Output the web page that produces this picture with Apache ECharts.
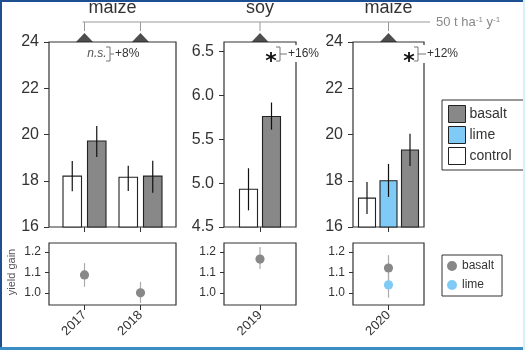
<!DOCTYPE html>
<html>
<head>
<meta charset="utf-8">
<script src="https://cdn.jsdelivr.net/npm/echarts@6/dist/echarts.min.js"></script>
<style>
  html, body { margin: 0; padding: 0; background: #fff; }
  #chart { width: 525px; height: 350px; }
</style>
</head>
<body>
<div id="chart"></div>
<script>
// Data
var years = ['2017', '2018', '2019', '2020'];
var crops = ['maize', 'soy', 'maize'];
var yearPanel = [0, 0, 1, 2];
var yearSlot = [0, 1, 0, 0];

var controlMean = [18.2, 18.15, 4.93, 17.25];
var controlLow = [17.55, 17.56, 4.69, 16.56];
var controlHigh = [18.85, 18.65, 5.17, 17.95];

var basaltMean = [19.72, 18.2, 5.76, 19.33];
var basaltLow = [19.03, 17.48, 5.61, 18.64];
var basaltHigh = [20.37, 18.86, 5.92, 20.03];

var limeYears = ['2020'];
var limeMean = [18.0];
var limeLow = [17.3];
var limeHigh = [18.73];

var gainBasalt = [1.088, 1.0, 1.166, 1.122];
var gainBasaltLow = [1.03, 0.95, 1.117, 1.06];
var gainBasaltHigh = [1.146, 1.054, 1.225, 1.185];
var gainLime = [1.039];
var gainLimeLow = [0.976];
var gainLimeHigh = [1.10];

var sigLabels = ['n.s.', '*', '*'];
var effectLabels = ['+8%', '+16%', '+12%'];
var yieldTicks = [[16, 18, 20, 22, 24], [4.5, 5.0, 5.5, 6.0, 6.5], [16, 18, 20, 22, 24]];
var gainTicks = [1.0, 1.1, 1.2];

// Layout / style
var FONT = 'Liberation Sans, Arial, sans-serif';
var INK = '#333';
var panels = [
    { left: 49, width: 127, xMin: -0.634, xMax: 1.634, yMin: 16, yMax: 24, bw: 18.5, step: 24.5 },
    { left: 224, width: 72, xMin: -0.5, xMax: 0.5, yMin: 4.5, yMax: 6.61, bw: 18, step: 23 },
    { left: 353, width: 71, xMin: -0.5, xMax: 0.5, yMin: 16, yMax: 24, bw: 17, step: 21.5 }
];
var gainMin = 0.94, gainMax = 1.245;
var colors = { basalt: '#888888', lime: '#80cbf6', control: '#ffffff' };

var chart = echarts.init(document.getElementById('chart'));

var grids = [], xAxes = [], yAxes = [], series = [];

panels.forEach(function (p, i) {
    grids.push({ left: p.left, top: 42, width: p.width, height: 185, show: true,
        borderColor: INK, borderWidth: 1.2, backgroundColor: 'transparent' });
    xAxes.push({ type: 'value', gridIndex: i, min: p.xMin, max: p.xMax,
        axisLine: { show: false, onZero: false }, splitLine: { show: false }, axisLabel: { show: false },
        axisTick: { show: true, length: 5, lineStyle: { color: INK }, customValues: [] } });
    yAxes.push({ type: 'value', gridIndex: i, min: p.yMin, max: p.yMax,
        axisLine: { show: false, onZero: false }, splitLine: { show: false },
        axisTick: { show: true, length: 5, lineStyle: { color: INK }, customValues: yieldTicks[i] },
        axisLabel: { fontSize: 16, color: INK, fontFamily: FONT, margin: 10, customValues: yieldTicks[i],
            formatter: function (v) { return i === 1 ? v.toFixed(1) : String(v); } } });
});
panels.forEach(function (p, i) {
    var g = i + 3;
    grids.push({ left: p.left, top: 243, width: p.width, height: 62, show: true,
        borderColor: INK, borderWidth: 1.2, backgroundColor: 'transparent' });
    xAxes.push({ type: 'value', gridIndex: g, min: p.xMin, max: p.xMax,
        axisLine: { show: false, onZero: false }, splitLine: { show: false },
        axisTick: { show: true, length: 5, lineStyle: { color: INK }, customValues: [] },
        axisLabel: { fontSize: 13, color: INK, fontFamily: FONT, rotate: 45, margin: 8, customValues: [] } });
    yAxes.push({ type: 'value', gridIndex: g, min: gainMin, max: gainMax,
        axisLine: { show: false, onZero: false }, splitLine: { show: false },
        axisTick: { show: true, length: 4, lineStyle: { color: INK }, customValues: gainTicks },
        axisLabel: { fontSize: 12, color: INK, fontFamily: FONT, margin: 8, customValues: gainTicks,
            formatter: function (v) { return v.toFixed(1); } } });
});

// tick positions per panel
years.forEach(function (y, k) {
    var p = yearPanel[k];
    xAxes[p].axisTick.customValues.push(yearSlot[k]);
    xAxes[p + 3].axisTick.customValues.push(yearSlot[k]);
    xAxes[p + 3].axisLabel.customValues.push(yearSlot[k]);
});
panels.forEach(function (p, i) {
    xAxes[i + 3].axisLabel.formatter = function (v) {
        for (var k = 0; k < years.length; k++) {
            if (yearPanel[k] === i && yearSlot[k] === Math.round(v)) return years[k];
        }
        return '';
    };
});

function barRender(panel, offset, fill) {
    var p = panels[panel];
    return function (params, api) {
        var x = api.value(0);
        var top = api.coord([x, api.value(1)]);
        var base = api.coord([x, p.yMin]);
        var lo = api.coord([x, api.value(2)]);
        var hi = api.coord([x, api.value(3)]);
        var cx = top[0] + offset;
        return { type: 'group', children: [
            { type: 'rect', shape: { x: cx - p.bw / 2, y: top[1], width: p.bw, height: base[1] - top[1] },
              style: { fill: fill, stroke: '#222', lineWidth: 1.1 } },
            { type: 'line', shape: { x1: cx, y1: lo[1], x2: cx, y2: hi[1] },
              style: { stroke: '#111', lineWidth: 1.2 } }
        ] };
    };
}

function gainRender(color) {
    return function (params, api) {
        var c = api.coord([api.value(0), api.value(1)]);
        var lo = api.coord([api.value(0), api.value(2)]);
        var hi = api.coord([api.value(0), api.value(3)]);
        return { type: 'group', children: [
            { type: 'line', shape: { x1: c[0], y1: lo[1], x2: c[0], y2: hi[1] },
              style: { stroke: '#aaa', lineWidth: 1.2 } },
            { type: 'circle', shape: { cx: c[0], cy: c[1], r: 4.6 }, style: { fill: color } }
        ] };
    };
}

panels.forEach(function (p, i) {
    var hasLime = years.some(function (y, k) { return yearPanel[k] === i && limeYears.indexOf(y) >= 0; });
    var order = hasLime ? ['control', 'lime', 'basalt'] : ['control', 'basalt'];
    var n = order.length;
    order.forEach(function (name, j) {
        var data = [];
        years.forEach(function (y, k) {
            if (yearPanel[k] !== i) return;
            if (name === 'control') data.push([yearSlot[k], controlMean[k], controlLow[k], controlHigh[k]]);
            if (name === 'basalt') data.push([yearSlot[k], basaltMean[k], basaltLow[k], basaltHigh[k]]);
            if (name === 'lime') {
                var li = limeYears.indexOf(y);
                if (li >= 0) data.push([yearSlot[k], limeMean[li], limeLow[li], limeHigh[li]]);
            }
        });
        series.push({ type: 'custom', name: name, xAxisIndex: i, yAxisIndex: i, data: data,
            renderItem: barRender(i, (j - (n - 1) / 2) * p.step, colors[name]) });
    });

    // triangles marking application
    var tri = [];
    years.forEach(function (y, k) { if (yearPanel[k] === i) tri.push([yearSlot[k], p.yMax]); });
    series.push({ type: 'scatter', name: 'application', xAxisIndex: i, yAxisIndex: i, data: tri,
        symbol: 'triangle', symbolSize: [17, 9], symbolOffset: [0, -4.5], clip: false, silent: true,
        itemStyle: { color: '#222' } });

    // yield gain
    var gb = [], gl = [];
    years.forEach(function (y, k) {
        if (yearPanel[k] !== i) return;
        gb.push([yearSlot[k], gainBasalt[k], gainBasaltLow[k], gainBasaltHigh[k]]);
        var li = limeYears.indexOf(y);
        if (li >= 0) gl.push([yearSlot[k], gainLime[li], gainLimeLow[li], gainLimeHigh[li]]);
    });
    series.push({ type: 'custom', name: 'basalt', xAxisIndex: i + 3, yAxisIndex: i + 3, data: gb,
        renderItem: gainRender(colors.basalt) });
    if (gl.length) {
        series.push({ type: 'custom', name: 'lime', xAxisIndex: i + 3, yAxisIndex: i + 3, data: gl,
            renderItem: gainRender(colors.lime) });
    }
});

chart.setOption({
    animation: false,
    textStyle: { fontFamily: FONT },
    grid: grids,
    xAxis: xAxes,
    yAxis: yAxes,
    legend: [{
        orient: 'vertical', left: 442, top: 100, padding: [5, 18, 5, 6], itemGap: 3,
        itemWidth: 17, itemHeight: 17, borderColor: INK, borderWidth: 1, selectedMode: false,
        textStyle: { fontSize: 14, color: INK, fontFamily: FONT, padding: [0, 0, 0, -1] },
        data: ['basalt', 'lime', 'control'].map(function (nm) {
            return { name: nm, icon: 'rect', itemStyle: { color: colors[nm], borderColor: '#222', borderWidth: 1 } };
        })
    }, {
        orient: 'vertical', left: 442, top: 255, padding: [5, 8, 5, 5], itemGap: 7,
        itemWidth: 10, itemHeight: 10, borderColor: INK, borderWidth: 1, selectedMode: false,
        textStyle: { fontSize: 12, color: INK, fontFamily: FONT },
        data: ['basalt', 'lime'].map(function (nm) {
            return { name: nm, icon: 'circle', itemStyle: { color: colors[nm], borderWidth: 0 } };
        })
    }],
    series: series
});

// Decorations: crop headers, application bracket, significance notes
var gfx = [];
var bracketY = 22;
var allX = [];
panels.forEach(function (p, i) {
    var xs = [];
    years.forEach(function (y, k) {
        if (yearPanel[k] === i) xs.push(chart.convertToPixel({ gridIndex: i }, [yearSlot[k], p.yMax])[0]);
    });
    xs.forEach(function (x) {
        allX.push(x);
        gfx.push({ type: 'line', shape: { x1: x, y1: bracketY, x2: x, y2: 31 }, style: { stroke: '#999', lineWidth: 1 } });
    });
    var mid = xs.reduce(function (a, b) { return a + b; }, 0) / xs.length;
    gfx.push({ type: 'text', x: mid, y: 8, style: { text: crops[i], fontSize: 18, fill: INK, fontFamily: FONT,
        align: 'center', verticalAlign: 'middle' } });
});
gfx.push({ type: 'line', shape: { x1: allX[0] - 2, y1: bracketY, x2: 430, y2: bracketY }, style: { stroke: '#999', lineWidth: 1 } });
gfx.push({ type: 'text', x: 436, y: bracketY, style: {
    text: '{n|50 t ha}{s|-1}{n| y}{s|-1}', align: 'left', verticalAlign: 'middle',
    rich: { n: { fontSize: 13, fill: '#888', fontFamily: FONT }, s: { fontSize: 8, fill: '#888', fontFamily: FONT, verticalAlign: 'top' } } } });

// significance annotations (text positions)
var notes = [
    { sx: 97, bx: 110, tx: 115, cover: null },
    { sx: 271, bx: 280, tx: 288, cover: [285, 45, 42, 17] },
    { sx: 409, bx: 418, tx: 427, cover: [419, 45, 46, 18] }
];
notes.forEach(function (nt, i) {
    if (nt.cover) gfx.push({ type: 'rect', shape: { x: nt.cover[0], y: nt.cover[1], width: nt.cover[2], height: nt.cover[3] }, style: { fill: '#fff' } });
    if (sigLabels[i] === '*') {
        gfx.push({ type: 'text', x: nt.sx, y: 62, style: { text: '*', fontSize: 22, fontWeight: 'bold', fill: '#111',
            fontFamily: 'DejaVu Sans', align: 'center', verticalAlign: 'middle' } });
    } else {
        gfx.push({ type: 'text', x: nt.sx, y: 54, style: { text: sigLabels[i], fontSize: 12, fontStyle: 'italic', fill: '#555',
            fontFamily: FONT, align: 'center', verticalAlign: 'middle' } });
    }
    gfx.push({ type: 'polyline', shape: { points: [[nt.bx - 4, 47], [nt.bx, 47], [nt.bx, 61], [nt.bx - 4, 61]] }, style: { stroke: '#777', lineWidth: 1, fill: null } });
    gfx.push({ type: 'line', shape: { x1: nt.bx, y1: 54, x2: nt.tx - 1, y2: 54 }, style: { stroke: '#777', lineWidth: 1 } });
    gfx.push({ type: 'text', x: nt.tx, y: 54, style: { text: effectLabels[i], fontSize: 12, fill: INK, fontFamily: FONT,
        align: 'left', verticalAlign: 'middle' } });
});

gfx.push({ type: 'text', x: 12, y: 272, rotation: Math.PI / 2, style: { text: 'yield gain', fontSize: 11, fill: '#555',
    fontFamily: FONT, align: 'center', verticalAlign: 'middle' } });

// picture frame
gfx.push({ type: 'rect', shape: { x: 0, y: 0, width: 525, height: 2 }, style: { fill: '#1d4f91' } });
gfx.push({ type: 'rect', shape: { x: 0, y: 0, width: 2, height: 350 }, style: { fill: '#1d4f91' } });
gfx.push({ type: 'rect', shape: { x: 0, y: 347, width: 525, height: 3 }, style: { fill: '#3a8cc4' } });
gfx.push({ type: 'rect', shape: { x: 523, y: 0, width: 2, height: 350 }, style: { fill: '#d6f2f8' } });

gfx.forEach(function (el) { el.z = 100; el.silent = true; });
chart.setOption({ graphic: gfx });
</script>
</body>
</html>
